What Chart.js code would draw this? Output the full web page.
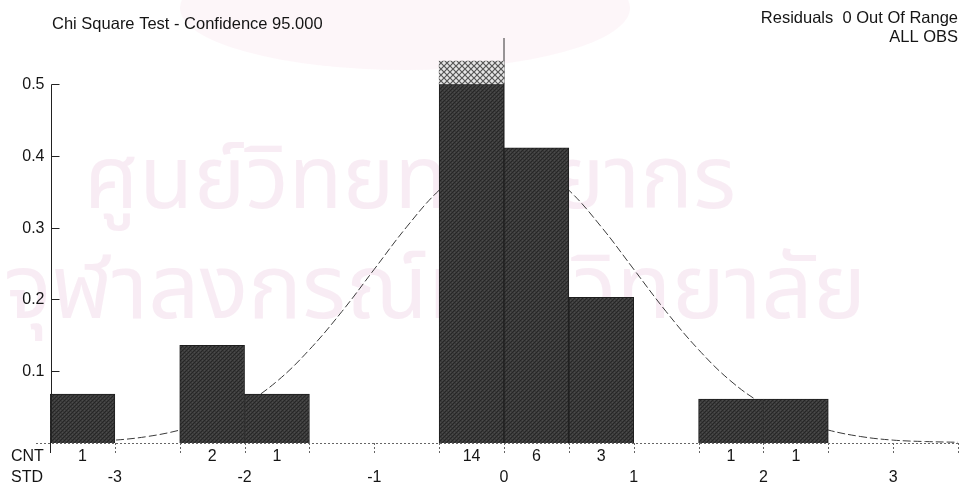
<!DOCTYPE html>
<html>
<head>
<meta charset="utf-8">
<script src="https://cdn.jsdelivr.net/npm/chart.js@4.4.1/dist/chart.umd.min.js"></script>
<style>
  html, body { margin: 0; padding: 0; background: #fff; }
  #wrap { width: 965px; height: 489px; position: relative; }
</style>
</head>
<body>
<div id="wrap"><canvas id="chi" width="965" height="489"></canvas></div>
<script>
// histogram bins (0.5 std wide), centre of each bin
const binCentres = [-3.25, -2.75, -2.25, -1.75, -1.25, -0.75, -0.25, 0.25, 0.75, 1.25, 1.75, 2.25, 2.75, 3.25];
const binCounts  = ['1', '', '2', '1', '', '', '14', '6', '3', '', '1', '1', '', ''];
const binHeights = [0.068, 0, 0.136, 0.068, 0, 0, 0.5, 0.411, 0.203, 0, 0.061, 0.061, 0, 0];
// part of the 14 bar that runs past the top (hatched)
const overflowBin = 6;
const overflowRange = [0.5, 0.532];

// fitted normal curve
const curveStd = [-3.5, -3.25, -3, -2.75, -2.5, -2.25, -2, -1.75, -1.5, -1.25, -1, -0.75, -0.5, -0.25, 0,
                  0.25, 0.5, 0.75, 1, 1.25, 1.5, 1.75, 2, 2.25, 2.5, 2.75, 3, 3.25, 3.5];
const curveDensity = [0.001, 0.002, 0.004, 0.009, 0.018, 0.032, 0.054, 0.086, 0.130, 0.183, 0.242, 0.301, 0.352, 0.387, 0.399,
                      0.387, 0.352, 0.301, 0.242, 0.183, 0.130, 0.086, 0.054, 0.032, 0.018, 0.009, 0.004, 0.002, 0.001];

const stdTicks = [-3, -2, -1, 0, 1, 2, 3];
const binEdges = [-3.5, -3, -2.5, -2, -1.5, -1, -0.5, 0, 0.5, 1, 1.5, 2, 2.5, 3, 3.5];
const yTicks = [0.1, 0.2, 0.3, 0.4, 0.5];
const yTop = 0.564;

const titleText = 'Chi Square Test - Confidence 95.000';
const residText = 'Residuals  0 Out Of Range';
const obsText = 'ALL OBS';
const watermark = ['ศูนย์วิทยทรัพยากร', 'จุฬาลงกรณ์มหาวิทยาลัย'];

const FONT = '"Liberation Sans", Arial, sans-serif';

function makeDarkPattern() {
  const c = document.createElement('canvas');
  c.width = 4; c.height = 4;
  const g = c.getContext('2d');
  g.fillStyle = '#3a3a3a';
  g.fillRect(0, 0, 4, 4);
  g.fillStyle = '#262626';
  g.fillRect(0, 0, 1, 1); g.fillRect(2, 2, 1, 1); g.fillRect(3, 1, 1, 1); g.fillRect(1, 3, 1, 1);
  g.fillStyle = '#4c4c4c';
  g.fillRect(2, 0, 1, 1); g.fillRect(0, 2, 1, 1);
  return g.createPattern(c, 'repeat');
}

function makeHatchPattern() {
  const c = document.createElement('canvas');
  c.width = 6; c.height = 6;
  const g = c.getContext('2d');
  g.fillStyle = '#e6e6e6';
  g.fillRect(0, 0, 6, 6);
  g.strokeStyle = '#555';
  g.lineWidth = 1.2;
  g.beginPath();
  g.moveTo(0, 0); g.lineTo(6, 6);
  g.moveTo(6, 0); g.lineTo(0, 6);
  g.stroke();
  return g.createPattern(c, 'repeat');
}

const darkFill = makeDarkPattern();
const hatchFill = makeHatchPattern();

const overflowData = binCentres.map((_, i) => i === overflowBin ? overflowRange : null);

const axesPlugin = {
  id: 'chiAxes',
  beforeDraw(chart) {
    const ctx = chart.ctx;
    ctx.save();
    // faint seal + library watermark from the scan
    ctx.fillStyle = 'rgba(250, 232, 241, 0.4)';
    ctx.beginPath();
    ctx.ellipse(405, 8, 225, 62, 0, 0, Math.PI * 2);
    ctx.fill();
    ctx.fillStyle = 'rgba(236, 206, 226, 0.38)';
    ctx.textAlign = 'center';
    ctx.textBaseline = 'middle';
    ctx.font = '88px "Noto Sans Thai", "Loma", "Garuda", "Noto Sans", sans-serif';
    ctx.fillText(watermark[0], 410, 190);
    ctx.font = '90px "Noto Sans Thai", "Loma", "Garuda", "Noto Sans", sans-serif';
    ctx.fillText(watermark[1], 435, 300);
    ctx.restore();
  },
  afterDraw(chart) {
    const ctx = chart.ctx;
    const xs = chart.scales.xc;
    const ys = chart.scales.y;
    const y0 = ys.getPixelForValue(0);
    ctx.save();

    // titles
    ctx.fillStyle = '#151515';
    ctx.font = '16.5px ' + FONT;
    ctx.textBaseline = 'middle';
    ctx.textAlign = 'left';
    ctx.fillText(titleText, 52, 24);
    ctx.textAlign = 'right';
    ctx.fillText(residText, 958, 18);
    ctx.fillText(obsText, 958, 37);

    // y axis
    const xAxis = Math.round(xs.getPixelForValue(-3.5)) + 1.5;
    ctx.strokeStyle = '#222';
    ctx.lineWidth = 1;
    ctx.beginPath();
    ctx.moveTo(xAxis, Math.round(ys.getPixelForValue(0.5)) + 0.5);
    ctx.lineTo(xAxis, y0);
    ctx.stroke();
    ctx.font = '16px ' + FONT;
    ctx.textAlign = 'right';
    yTicks.forEach(v => {
      const py = Math.round(ys.getPixelForValue(v)) + 0.5;
      ctx.beginPath();
      ctx.moveTo(xAxis, py);
      ctx.lineTo(xAxis + 8, py);
      ctx.stroke();
      ctx.fillText(v.toFixed(1), xAxis - 7, py);
    });

    // dotted baseline
    ctx.strokeStyle = '#666';
    ctx.setLineDash([2, 2]);
    ctx.beginPath();
    ctx.moveTo(36, Math.round(y0) + 0.5);
    ctx.lineTo(xs.getPixelForValue(3.5), Math.round(y0) + 0.5);
    ctx.stroke();

    // bin edge ticks
    binEdges.forEach((e, i) => {
      const px = Math.round(xs.getPixelForValue(e)) + 0.5;
      if (i === 0) { ctx.setLineDash([]); ctx.strokeStyle = '#222'; }
      else { ctx.setLineDash([2, 2]); ctx.strokeStyle = '#666'; }
      ctx.beginPath();
      ctx.moveTo(px, y0);
      ctx.lineTo(px, y0 + 10);
      ctx.stroke();
    });
    ctx.setLineDash([]);

    // CNT and STD rows
    ctx.fillStyle = '#151515';
    ctx.font = '16px ' + FONT;
    ctx.textAlign = 'left';
    ctx.fillText('CNT', 11, 457);
    ctx.fillText('STD', 11, 478);
    ctx.textAlign = 'center';
    binCentres.forEach((c, i) => {
      if (binCounts[i]) ctx.fillText(binCounts[i], xs.getPixelForValue(c), 457);
    });
    stdTicks.forEach(s => ctx.fillText(String(s), xs.getPixelForValue(s), 478));
    ctx.restore();
  }
};

new Chart(document.getElementById('chi'), {
  type: 'bar',
  data: {
    labels: binCentres.map(String),
    datasets: [
      {
        type: 'bar',
        label: 'Observed',
        data: binHeights,
        backgroundColor: darkFill,
        borderColor: '#1e1e1e',
        borderWidth: 1,
        barPercentage: 1,
        categoryPercentage: 1,
        grouped: false,
        order: 1
      },
      {
        type: 'bar',
        label: 'Over range',
        data: overflowData,
        backgroundColor: hatchFill,
        borderWidth: 0,
        barPercentage: 1,
        categoryPercentage: 1,
        grouped: false,
        order: 0
      },
      {
        type: 'line',
        label: 'Normal',
        xAxisID: 'xc',
        data: curveStd.map((s, i) => ({ x: s, y: curveDensity[i] })),
        borderColor: '#3a3a3a',
        borderWidth: 1,
        borderDash: [8, 3],
        pointRadius: 0,
        tension: 0.4,
        order: 3
      },
      {
        type: 'line',
        label: 'Mean',
        xAxisID: 'xc',
        data: [{ x: 0, y: 0 }, { x: 0, y: yTop }],
        borderColor: '#333',
        borderWidth: 1,
        pointRadius: 0,
        order: 4
      }
    ]
  },
  options: {
    responsive: false,
    animation: false,
    events: [],
    layout: { padding: { left: 50, right: 7, top: 38, bottom: 46 } },
    plugins: { legend: { display: false }, tooltip: { enabled: false }, title: { display: false } },
    scales: {
      x: { display: false, offset: true },
      xc: { type: 'linear', display: false, offset: false, min: -3.5, max: 3.5 },
      y: { display: false, min: 0, max: yTop }
    }
  },
  plugins: [axesPlugin]
});
</script>
</body>
</html>
